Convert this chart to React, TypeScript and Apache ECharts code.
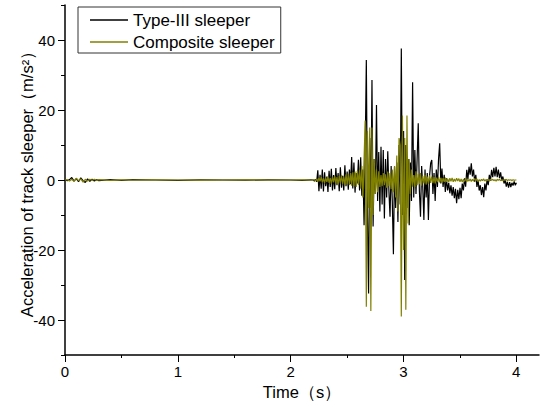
import React, { useEffect, useRef } from "react";
import * as echarts from "echarts";

// Early, quiet part of the record (time in s, acceleration in m/s²)
const earlyTime = [
  0, 0.02, 0.04, 0.06, 0.08, 0.1, 0.12, 0.14, 0.16, 0.18, 0.2, 0.22, 0.24, 0.26, 0.28, 0.3,
  0.4, 0.5, 0.6, 0.8, 1.0, 1.2, 1.4, 1.6, 1.8, 2.0, 2.1, 2.18,
];
const earlyTypeIII = [
  0, -0.2, 0.1, 0.7, -0.3, 0.4, -0.5, 0.6, -0.2, -0.7, 0.3, -0.4, 0.2, -0.3, 0.1, -0.2,
  0.1, -0.1, 0.1, 0, -0.1, 0.05, 0, -0.05, 0.05, 0, -0.1, 0.05,
];
const earlyComposite = [
  0, 0.1, -0.3, 0.2, -0.4, 0.5, -0.2, 0.3, -0.6, 0.2, -0.3, 0.2, -0.1, 0.2, -0.1, 0.1,
  -0.1, 0.05, 0, 0.05, 0, -0.05, 0, 0.05, 0, 0, 0.05, 0,
];

// Train passage part, sampled every 0.01 s from 2.20 s to 4.00 s
const burstStart = 2.2;
const burstStep = 0.01;
const burstTypeIII = [
  0.0, -0.3, 0.2, -0.5, 2.8, -3.2, 1.5, -2.5, 3.0, -3.3,
  2.2, -1.8, 1.0, -3.4, 2.6, -2.0, 3.2, -3.0, 1.4, -2.6,
  3.4, -1.5, 2.0, -3.2, 3.6, -2.2, 1.2, -3.0, 4.2, -1.8,
  2.4, -2.8, 3.0, -1.2, 6.6, -2.4, 5.0, -3.6, 2.0, -1.0,
  5.8, -3.0, 6.5, -4.5, 3.0, -12.9, 8.0, 34.3, -10.0, -32.4,
  12.0, -8.0, 28.6, -13.3, 6.0, -4.0, 21.4, -6.0, 8.0, -9.0,
  9.5, -7.0, 8.6, -11.0, 6.0, -5.0, 8.2, -3.0, -10.5, 4.0,
  -6.0, -21.2, 3.8, -8.0, 5.0, -12.0, 10.0, -7.0, 37.6, -10.0,
  14.0, -28.6, 10.0, -8.0, 6.0, -12.9, 5.0, -6.0, 27.9, -5.0,
  8.6, -4.0, 6.0, 16.2, -3.0, -10.5, 4.0, -2.0, -11.4, 3.0,
  -5.0, 2.0, -11.4, 1.0, 4.8, 5.7, -4.0, 2.0, -6.0, 3.0,
  -2.0, 6.0, 10.5, -1.0, 3.3, -2.0, 1.5, -3.4, 0.5, -3.0,
  -0.8, -3.8, -1.5, -4.5, -2.0, -5.2, -2.5, -6.6, -2.8, -5.5,
  -2.2, -5.2, -1.0, -3.0, 0.5, -1.9, 2.9, 0.2, 3.8, 1.5,
  4.8, 1.0, 3.0, -0.5, 1.5, -2.0, 0.0, -3.0, -1.5, -4.3,
  -2.0, -4.9, -1.0, -3.0, 0.2, -1.5, 1.5, -0.2, 2.9, 0.8,
  3.5, 1.0, 3.8, 0.8, 3.0, 0.5, 2.2, -0.2, 1.0, -1.0,
  0.2, -1.9, -0.5, -2.2, -0.6, -2.0, -0.8, -1.6, -0.4, -1.5,
  -0.8,
];
const burstComposite = [
  0.0, 0.1, -0.2, 0.3, -0.5, 0.6, -0.4, 0.8, -0.7, 0.5,
  -0.9, 0.7, -0.6, 1.0, -0.8, 0.6, -1.1, 0.9, -0.7, 1.2,
  -1.0, 0.8, -1.3, 1.1, -0.9, 1.4, -1.2, 1.0, -1.5, 1.6,
  -1.2, 1.8, -1.4, 2.0, -1.6, 2.2, -1.8, 2.4, -2.0, 2.6,
  -1.4, 3.0, -2.5, 4.0, -5.0, 6.0, 17.0, -36.2, 14.0, -8.0,
  15.0, -37.4, 15.0, -10.0, 6.0, -4.0, 3.0, -3.5, 2.5, -2.0,
  1.4, -1.8, 2.0, -1.5, 1.6, -2.2, 2.4, -1.8, 2.0, -2.6,
  3.0, -3.5, 4.0, -5.0, 7.0, -9.0, 12.0, 10.0, -39.0, 18.4,
  -20.0, 12.0, -37.1, 18.4, -12.4, 6.0, -4.0, 3.0, -1.9, 1.4,
  -2.0, 2.5, -1.5, 1.8, -1.2, 2.0, -1.6, 1.2, -1.0, 1.5,
  -1.3, 1.0, -1.1, 1.3, -0.8, 1.0, -0.9, 0.8, -1.0, 0.7,
  -0.6, 0.9, -0.7, 0.6, -0.8, 0.5, -0.6, 0.7, -0.5, 0.4,
  -0.6, 0.5, -0.4, 0.6, -0.5, 0.3, -0.4, 0.5, -0.3, 0.4,
  -0.5, 0.3, -0.6, 0.2, -0.4, 0.4, -0.5, 0.2, -0.3, 0.3,
  -0.4, 0.2, -0.3, 0.4, -0.2, 0.3, -0.4, 0.1, -0.3, 0.2,
  -0.2, 0.3, -0.3, 0.1, -0.2, 0.2, -0.3, 0.2, -0.1, 0.2,
  -0.2, 0.1, -0.3, 0.2, -0.1, 0.2, -0.2, 0.1, -0.2, 0.1,
  -0.1, 0.2, -0.2, 0.1, -0.1, 0.1, -0.2, 0.1, -0.1, 0.0,
  0.0,
];

const seriesNames = ["Type-III sleeper", "Composite sleeper"];
const seriesColors = ["#000000", "#808000"];
const xAxisName = "Time（s）";
const yAxisName = "Acceleration of track sleeper（m/s²）";

const FONT = "Arial, 'Liberation Sans', sans-serif";

function buildPoints(early: number[], burst: number[]): number[][] {
  const pts: number[][] = earlyTime.map((t, i) => [t, early[i]]);
  burst.forEach((v, i) => {
    pts.push([Number((burstStart + i * burstStep).toFixed(2)), v]);
  });
  return pts;
}

export default function App() {
  const ref = useRef<HTMLDivElement>(null);

  useEffect(() => {
    if (!ref.current) return;
    const chart = echarts.init(ref.current, undefined, { renderer: "svg" });
    const axisLineStyle = { color: "#000", width: 1.5 };
    const tickStyle = { color: "#000", width: 1 };
    const labelStyle = { color: "#000", fontSize: 15, fontFamily: FONT };

    chart.setOption({
      animation: false,
      backgroundColor: "#fff",
      textStyle: { fontFamily: FONT },
      grid: [
        { left: 65, right: 1, top: 5, bottom: 53 },
        { left: 65, width: 451.2, top: 5, bottom: 53 },
        { left: 65, right: 1, top: 40, bottom: 88 },
      ],
      legend: {
        orient: "vertical",
        left: 78,
        top: 7,
        data: seriesNames,
        icon: "rect",
        itemWidth: 38,
        itemHeight: 1.5,
        itemGap: 4,
        padding: [4, 6, 2, 12],
        borderColor: "#333",
        borderWidth: 1,
        textStyle: { fontSize: 17, lineHeight: 18, color: "#000", fontFamily: FONT },
      },
      xAxis: [
        {
          gridIndex: 0,
          type: "value",
          min: 0,
          max: 4.2,
          axisLine: { show: true, onZero: false, lineStyle: axisLineStyle },
          axisTick: { show: false },
          axisLabel: { show: false },
          splitLine: { show: false },
          name: xAxisName,
          nameLocation: "middle",
          nameGap: 28,
          nameTextStyle: { fontSize: 16.5, color: "#000", fontFamily: FONT },
        },
        {
          gridIndex: 1,
          type: "value",
          min: 0,
          max: 4,
          interval: 0.5,
          position: "bottom",
          axisLine: { show: false, onZero: false },
          axisTick: { show: true, length: 3, lineStyle: tickStyle },
          axisLabel: { show: false },
          splitLine: { show: false },
        },
        {
          gridIndex: 1,
          type: "value",
          min: 0,
          max: 4,
          interval: 1,
          position: "bottom",
          axisLine: { show: false, onZero: false },
          axisTick: { show: true, length: 7, lineStyle: tickStyle },
          axisLabel: { ...labelStyle, margin: 9 },
          splitLine: { show: false },
        },
        {
          gridIndex: 2,
          type: "value",
          min: 0,
          max: 1,
          show: false,
        },
      ],
      yAxis: [
        {
          gridIndex: 0,
          type: "value",
          min: -50,
          max: 50,
          interval: 10,
          axisLine: { show: true, onZero: false, lineStyle: axisLineStyle },
          axisTick: { show: true, length: 4, lineStyle: tickStyle },
          axisLabel: { show: false },
          splitLine: { show: false },
          name: yAxisName,
          nameLocation: "middle",
          nameGap: 30,
          nameTextStyle: { fontSize: 16.5, color: "#000", fontFamily: FONT },
        },
        {
          gridIndex: 1,
          type: "value",
          min: 0,
          max: 1,
          show: false,
        },
        {
          gridIndex: 2,
          type: "value",
          min: -40,
          max: 40,
          interval: 20,
          axisLine: { show: false, onZero: false },
          axisTick: { show: true, length: 7, lineStyle: tickStyle },
          axisLabel: { ...labelStyle, margin: 10 },
          splitLine: { show: false },
        },
      ],
      series: [
        {
          name: seriesNames[0],
          type: "line",
          xAxisIndex: 0,
          yAxisIndex: 0,
          data: buildPoints(earlyTypeIII, burstTypeIII),
          symbol: "none",
          color: seriesColors[0],
          lineStyle: { color: seriesColors[0], width: 1.2 },
          z: 2,
        },
        {
          name: seriesNames[1],
          type: "line",
          xAxisIndex: 0,
          yAxisIndex: 0,
          data: buildPoints(earlyComposite, burstComposite),
          symbol: "none",
          color: seriesColors[1],
          lineStyle: { color: seriesColors[1], width: 1.2 },
          z: 3,
        },
      ],
    });
    return () => chart.dispose();
  }, []);

  return (
    <div
      ref={ref}
      style={{ position: "fixed", left: 0, top: 0, width: 540, height: 408, background: "#fff" }}
    />
  );
}
